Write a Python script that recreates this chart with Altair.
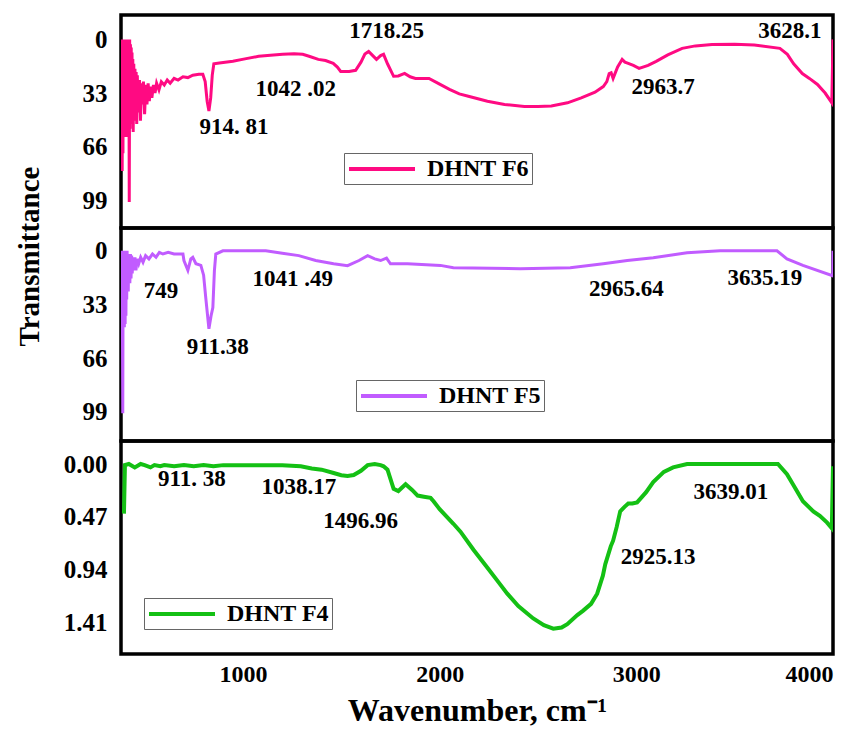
import altair as alt
import pandas as pd

FONT = "Liberation Serif"
X_DOMAIN = [380, 4000]
X_TICKS = [1000, 2000, 3000, 4000]

# ---- DHNT F6 (top panel) ----
F6_WN = [383, 386, 388, 390, 392, 394, 396, 398, 400, 402, 404, 406, 408, 410, 412, 414, 416, 418,
         420, 422, 424, 426, 428, 430, 432, 434, 436, 438, 440, 442, 445, 448, 451, 454, 457, 460,
         463, 466, 470, 474, 479, 484, 489, 494, 500, 506, 512, 518, 524, 530, 537, 545, 553,
         561, 573, 585, 600, 615, 630, 650, 670, 695, 720, 745, 776, 796, 808, 818, 827, 836, 844,
         852, 880, 949, 1010, 1080, 1140, 1202, 1260, 1304, 1340, 1383, 1420, 1459, 1480, 1497,
         1540, 1573, 1600, 1620, 1639, 1660, 1679, 1700, 1715, 1735, 1766, 1790, 1822, 1850, 1877,
         1946, 2000, 2050, 2100, 2146, 2243, 2330, 2431, 2500, 2568, 2650, 2720, 2790, 2832, 2850,
         2862, 2872, 2882, 2905, 2928, 2942, 2959, 2985, 3014, 3060, 3101, 3160, 3233, 3300, 3385,
         3500, 3600, 3730, 3768, 3800, 3844, 3880, 3921, 3960, 3994, 4000]
F6_T = [0, 81, 0, 70, 0, 55, 0, 50, 0, 60, 0, 45, 0, 55, 0, 60, 2, 50,
        0, 100, 0, 55, 3, 52, 5, 50, 8, 48, 12, 57, 15, 50, 18, 48, 20, 52,
        22, 44, 44, 25, 50, 27, 40, 26, 46, 28, 40, 27, 38, 29, 36, 28, 33,
        27, 31, 26, 28, 25, 27, 24, 25, 23, 23.5, 22, 21.5, 21.5, 26, 38, 44, 36, 22,
        15, 14.5, 13.5, 12, 10.4, 9.8, 9.2, 8.8, 9.2, 10.5, 12.3, 13, 14.7, 17, 19.7,
        19.8, 19, 14, 9, 7.4, 10, 12.3, 10, 9.2, 15, 22.7, 22.5, 20.9, 23, 24,
        24, 27.5, 30.7, 33.5, 35, 38, 40, 41.2, 41.3, 41, 39, 36, 32.5, 29, 26,
        21, 20.5, 24, 17, 12.3, 14, 14.7, 16, 17.8, 16, 13.5, 9.5, 5.5, 4, 3.1,
        3, 3.5, 5.5, 9.2, 15, 21, 24, 27.7, 33, 39, 0]
F6_LABELS = ["1718.25", "1042 .02", "914. 81", "2963.7", "3628.1"]
F6_LABEL_WN = [1730, 1268, 954, 3136, 3781]
F6_LABEL_T = [-4.9, 30.7, 54, 29.5, -4.9]

# ---- DHNT F5 (middle panel) ----
F5_WN = [386, 389, 391, 393, 395, 397, 399, 401, 403, 405, 407, 409, 411, 413, 415, 417, 419, 421,
         423, 425, 428, 431, 434, 437, 441, 446, 451,
         456, 462, 470, 480, 492, 505, 522, 540, 558, 575, 593, 620, 650, 695, 700, 720, 735, 745,
         761, 786, 800, 811, 827, 838, 847, 855, 862, 898, 1116, 1200, 1284, 1370, 1461, 1532,
         1590, 1634, 1670, 1700, 1730, 1750, 1837, 2004, 2070, 2410, 2664, 2832, 2954, 3086,
         3258, 3426, 3715, 3766, 3847, 3999, 4000]
F5_T = [0, 100, 0, 47, 0, 47, 0, 45, 0, 40, 0, 30, 0, 25, 2, 25, 2, 20,
        2, 20, 2, 17, 3, 14, 4, 12, 4,
        12, 5, 8, 4, 7, 3, 5, 2, 4, 1, 2, 1, 2, 2, 6, 12, 5, 4,
        8, 9, 15, 29, 48, 40, 35, 12, 2, 0, 0, 1.5, 3, 6, 8, 9.2,
        6, 3, 5, 6, 4.5, 8, 8, 9, 10.4, 11, 10.4, 8, 6, 4.3,
        1.2, 0, 0, 5, 9, 15.4, 0]
F5_LABELS = ["749", "911.38", "1041 .49", "2965.64", "3635.19"]
F5_LABEL_WN = [583, 872, 1253, 2949, 3654]
F5_LABEL_T = [24.6, 59, 17.2, 23.4, 16.6]

# ---- DHNT F4 (bottom panel) ----
F4_WN = [395, 400, 420, 450, 480, 500, 530, 550, 580, 600, 650, 700, 750, 800, 850, 900, 1000,
         1100, 1200, 1294, 1350, 1400, 1461, 1500, 1532, 1563, 1600, 1634, 1670, 1700, 1715,
         1735, 1766, 1790, 1827, 1860, 1888, 1920, 1954, 1969, 2000, 2070, 2106, 2172, 2243,
         2300, 2344, 2400, 2476, 2530, 2578, 2620, 2649, 2700, 2730, 2770, 2801, 2830, 2842,
         2870, 2882, 2900, 2918, 2940, 2959, 2980, 3004, 3050, 3086, 3140, 3187, 3258, 3400,
         3600, 3720, 3766, 3800, 3847, 3900, 3933, 3970, 3994, 4000]
F4_T = [0.44, 0.01, 0.0, 0.03, 0.0, 0.01, 0.03, 0.01, 0.02, 0.01, 0.02, 0.01, 0.02, 0.01, 0.02,
        0.01, 0.01, 0.01, 0.01, 0.02, 0.04, 0.05, 0.08, 0.10, 0.106, 0.098, 0.06, 0.01, 0.0,
        0.01, 0.02, 0.05, 0.22, 0.24, 0.18, 0.23, 0.28, 0.29, 0.30, 0.33, 0.40, 0.53, 0.60,
        0.76, 0.92, 1.05, 1.15, 1.26, 1.37, 1.43, 1.46, 1.45, 1.42, 1.34, 1.30, 1.24, 1.15,
        0.99, 0.89, 0.73, 0.68, 0.56, 0.42, 0.38, 0.35, 0.35, 0.34, 0.25, 0.16, 0.07, 0.03,
        0.0, 0.0, 0.0, 0.0, 0.09, 0.19, 0.33, 0.42, 0.46, 0.52, 0.57, 0.02]
F4_LABELS = ["911. 38", "1038.17", "1496.96", "2925.13", "3639.01"]
F4_LABEL_WN = [740, 1284, 1598, 3111, 3481]
F4_LABEL_T = [0.133, 0.204, 0.505, 0.825, 0.248]

# legend line sample: a horizontal stroke drawn from the symbol's left edge
LEGEND_SYMBOL = "M-1,0H5"


def panel(wn, t, name, color, width_line, ydomain, yticks, yfmt, labels, lwn, lt,
          leg_x, leg_y, show_x=False, y_title=False):
    df = pd.DataFrame({"wn": wn, "t": t, "series": name})
    ann = pd.DataFrame({"wn": lwn, "t": lt, "label": labels})

    if show_x:
        x_axis = alt.Axis(values=X_TICKS, format="d", grid=False, ticks=False, domain=False,
                          labelFont=FONT, labelFontWeight="bold", labelFontSize=24,
                          labelColor="black", labelPadding=8,
                          title="Wavenumber, cm⁻¹", titleFont=FONT, titleFontWeight="bold",
                          titleFontSize=32, titleColor="black", titlePadding=9)
    else:
        x_axis = None
    xenc = alt.X("wn:Q", scale=alt.Scale(domain=X_DOMAIN, nice=False, zero=False), axis=x_axis)

    ykw = dict(values=yticks, format=yfmt, grid=False, ticks=False, domain=False,
               labelFont=FONT, labelFontWeight="bold", labelFontSize=25, labelColor="black",
               labelPadding=14)
    if y_title:
        ykw.update(title="Transmittance", titleFont=FONT, titleFontWeight="bold",
                   titleFontSize=29, titleColor="black", titleAngle=270,
                   titleAlign="center", titleBaseline="middle", titleX=-92, titleY=28)
    else:
        ykw.update(title=None)
    yenc = alt.Y("t:Q", scale=alt.Scale(domain=ydomain, reverse=True, nice=False, zero=False),
                 axis=alt.Axis(**ykw))

    line = alt.Chart(df).mark_line(strokeWidth=width_line, clip=True).encode(
        x=xenc, y=yenc, order="wn:Q",
        color=alt.Color("series:N", scale=alt.Scale(domain=[name], range=[color]),
                        legend=alt.Legend(orient="none", legendX=leg_x, legendY=leg_y, title=None,
                                          symbolType=LEGEND_SYMBOL, symbolSize=484,
                                          symbolStrokeWidth=4, labelFont=FONT,
                                          labelFontWeight="bold", labelFontSize=24,
                                          labelColor="black", labelOffset=54,
                                          strokeColor="#666666", fillColor="white",
                                          padding=3)))
    text = alt.Chart(ann).mark_text(font=FONT, fontWeight="bold", fontSize=23,
                                    color="black").encode(
        x=alt.X("wn:Q"), y=alt.Y("t:Q"), text="label:N")
    return alt.layer(line, text).properties(width=712, height=213)


p1 = panel(F6_WN, F6_T, "DHNT F6", "#ff0a82", 3, [-15, 116], [0, 33, 66, 99], "d",
           F6_LABELS, F6_LABEL_WN, F6_LABEL_T, 223, 138)
p2 = panel(F5_WN, F5_T, "DHNT F5", "#c15cff", 3, [-14, 117], [0, 33, 66, 99], "d",
           F5_LABELS, F5_LABEL_WN, F5_LABEL_T, 235, 152, y_title=True)
p3 = panel(F4_WN, F4_T, "DHNT F4", "#14c014", 4, [-0.204, 1.685], [0, 0.47, 0.94, 1.41], ".2f",
           F4_LABELS, F4_LABEL_WN, F4_LABEL_T, 23, 157, show_x=True)

chart = alt.VConcatChart(vconcat=[p1, p2, p3], spacing=0, bounds="flush").resolve_scale(
    color="independent", y="independent").resolve_legend(color="independent").properties(
    padding={"left": 13, "top": 13, "right": 5, "bottom": 0}, background="white"
).configure_view(stroke="black", strokeWidth=3.5)

chart.save("out.html", embed_options={"renderer": "svg", "actions": False})
